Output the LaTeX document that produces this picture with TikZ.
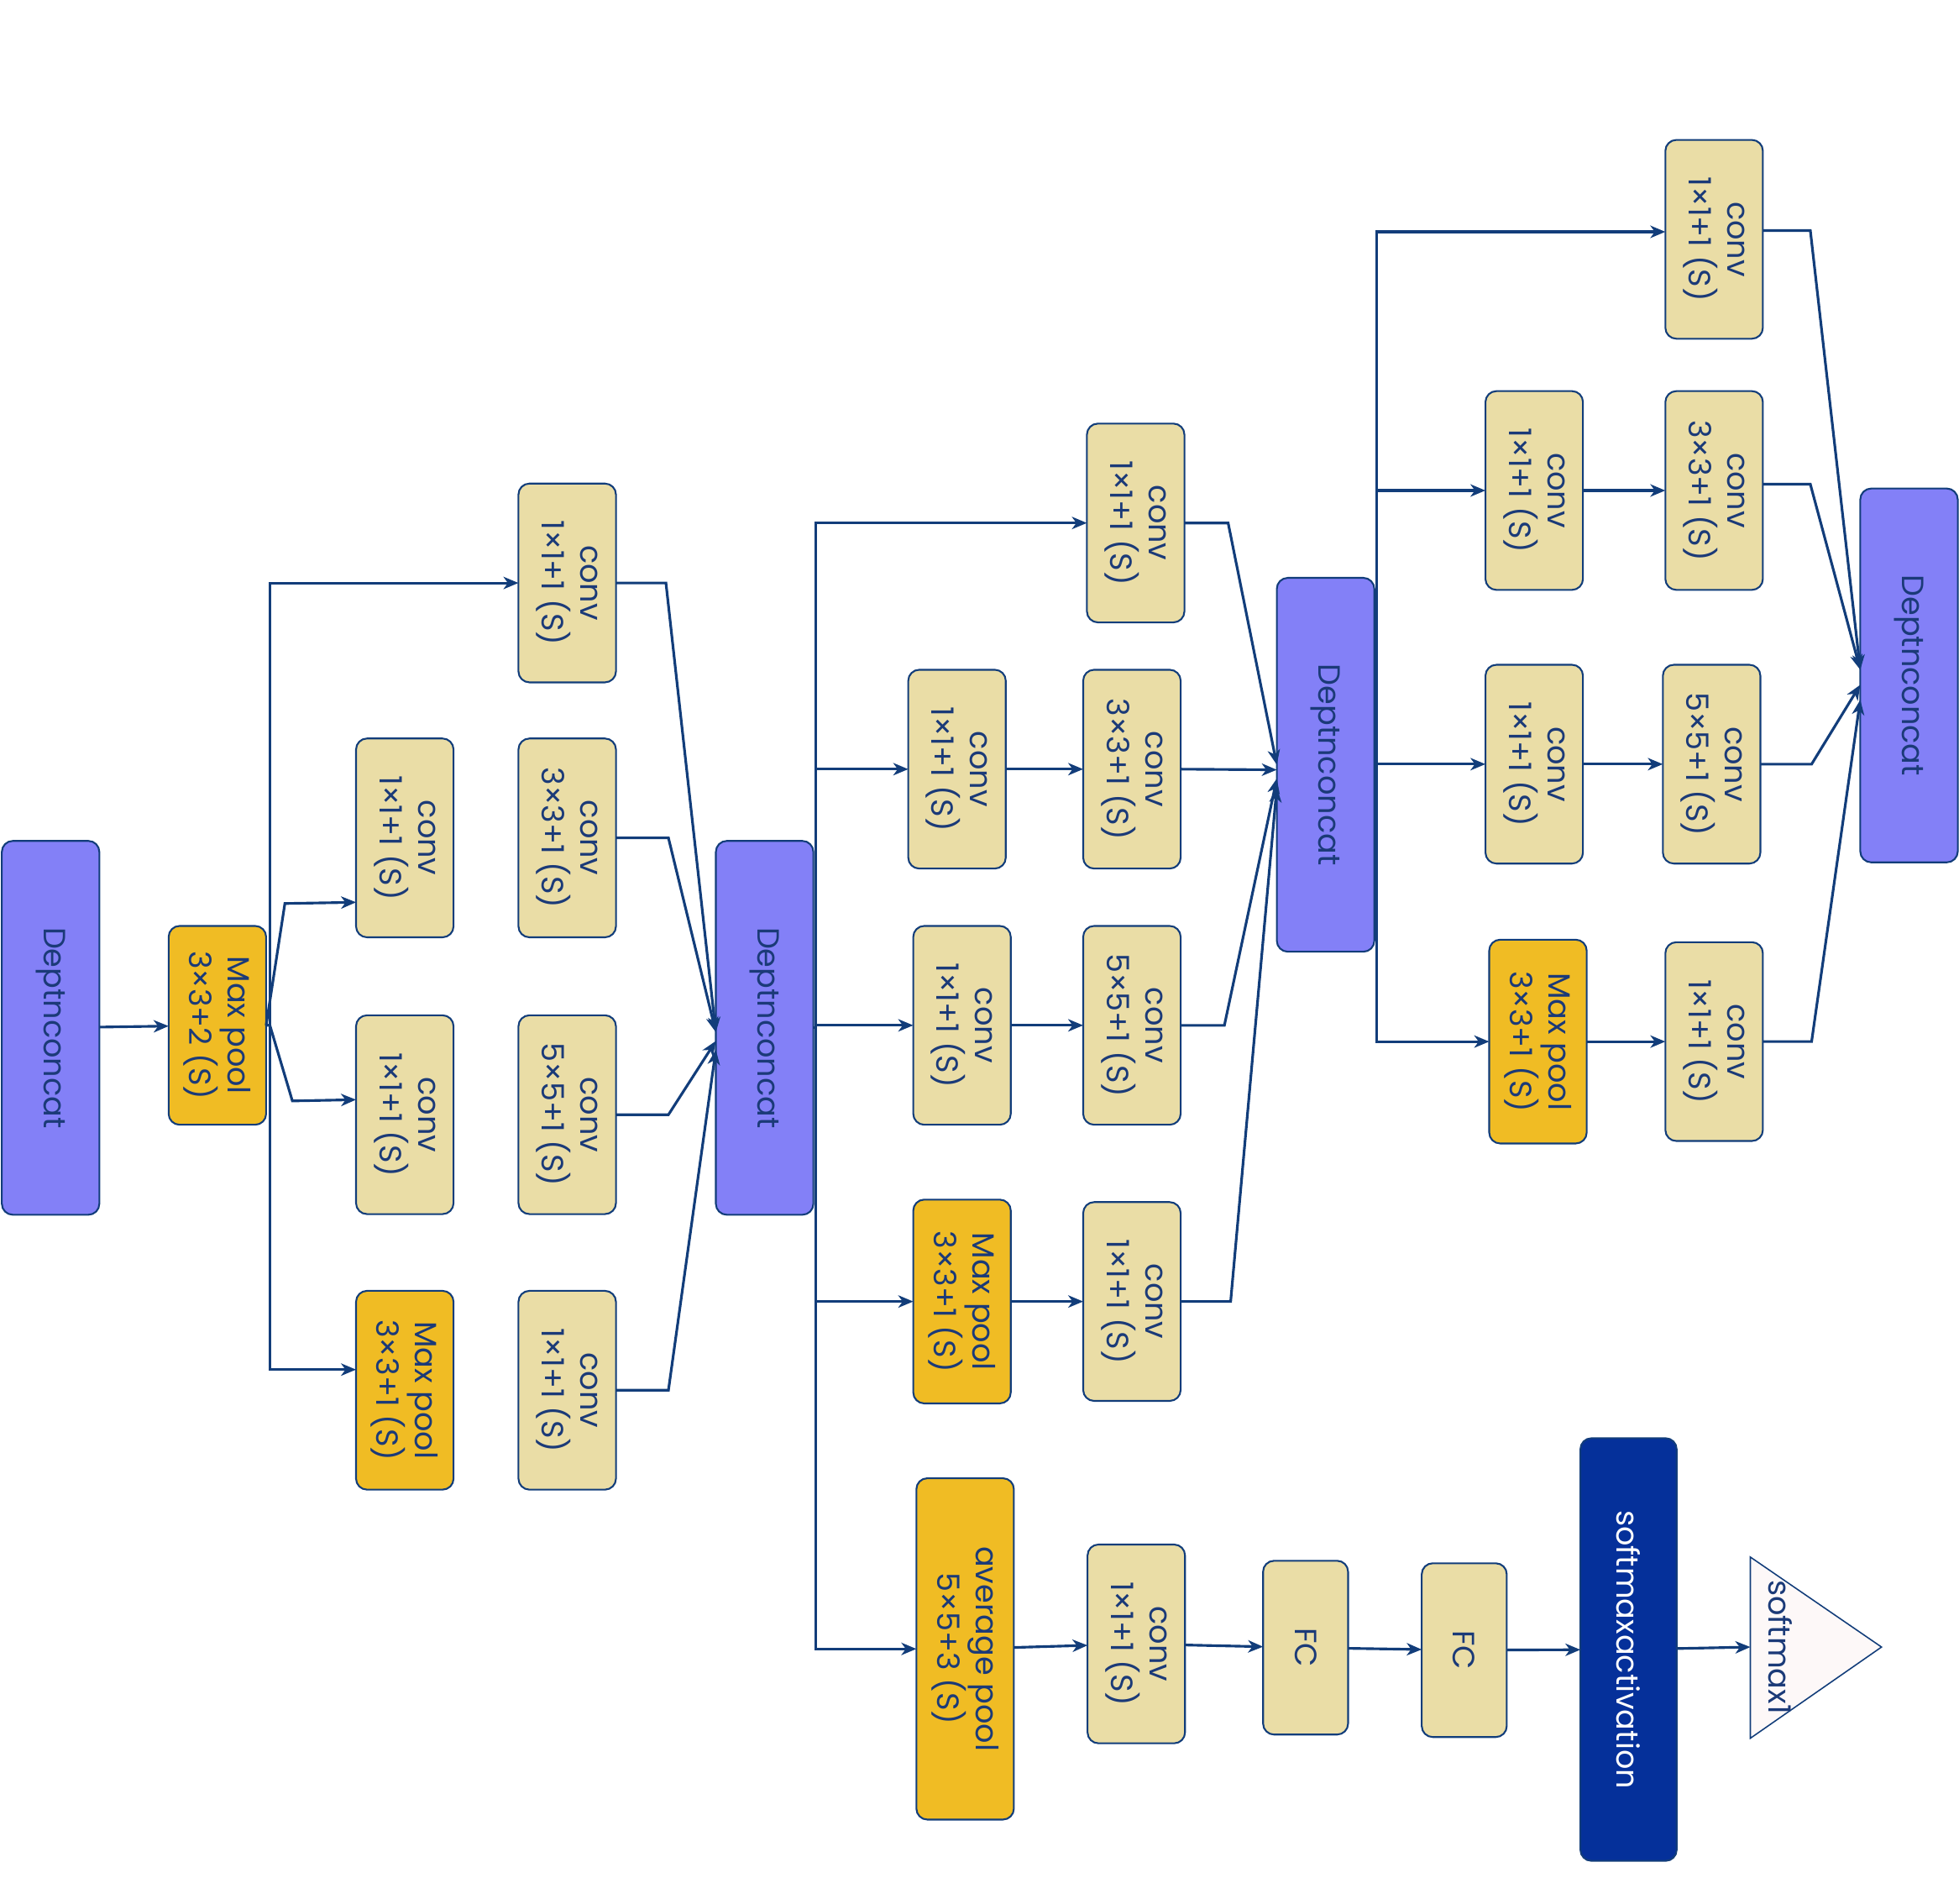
\documentclass[tikz,border=0pt]{standalone}
\usepackage{fontspec}
\setmainfont{Poppins}
\usetikzlibrary{arrows.meta,positioning}
\definecolor{linkblue}{HTML}{123D7A}
\definecolor{textblue}{HTML}{1B3A78}
\definecolor{catfill}{HTML}{8380F7}
\definecolor{poolfill}{HTML}{F0BC24}
\definecolor{convfill}{HTML}{EADDA6}
\definecolor{actfill}{HTML}{05309A}
\definecolor{trifill}{HTML}{FDF8F8}
\begin{document}
\begin{tikzpicture}[x=0.01cm,y=-0.01cm,font=\fontsize{7}{8.8}\selectfont,
	blk/.style={draw=linkblue,line width=0.4pt,rounded corners=2.5pt,rotate=-90,inner sep=0pt,outer sep=0pt,align=center,text=textblue},
	convbox/.style={blk,fill=convfill,minimum width=1.59cm,minimum height=0.78cm},
	poolbox/.style={blk,fill=poolfill,minimum width=1.59cm,minimum height=0.78cm},
	catbox/.style={blk,fill=catfill,minimum width=2.99cm,minimum height=0.78cm},
	link/.style={draw=linkblue,line width=0.6pt,-{Stealth[length=3.4pt,width=2.8pt,inset=1pt]}}]
						\useasboundingbox (0,0) rectangle (1568,1523);

						\node[catbox] (dc1) at (40.5,822.5) {Deptnconcat};
						\node[poolbox] (mp1) at (174,820.5) {Max pool\\3×3+2 (S)};

						\node[convbox] (c21) at (324,670.5) {conv\\1×1+1 (S)};
						\node[convbox] (c22) at (324,892) {conv\\1×1+1 (S)};
						\node[poolbox] (mp2) at (324,1112.5) {Max pool\\3×3+1 (S)};

						\node[convbox] (c31) at (454,466.5) {conv\\1×1+1 (S)};
						\node[convbox] (c32) at (454,670.5) {conv\\3×3+1 (S)};
						\node[convbox] (c33) at (454,892) {conv\\5×5+1 (S)};
						\node[convbox] (c34) at (454,1112.5) {conv\\1×1+1 (S)};

						\node[catbox] (dc2) at (612,822.5) {Deptnconcat};

						\node[convbox] (c41) at (766,615.5) {conv\\1×1+1 (S)};
						\node[convbox] (c42) at (770,820.5) {conv\\1×1+1 (S)};
						\node[poolbox,minimum width=1.63cm] (mp4) at (770,1041.5) {Max pool\\3×3+1 (S)};
						\node[poolbox,minimum width=2.73cm] (ap) at (772.5,1319.5) {average pool\\5×5+3 (S)};

						\node[convbox] (c51) at (909,418.5) {conv\\1×1+1 (S)};
						\node[convbox] (c52) at (906,615.5) {conv\\3×3+1 (S)};
						\node[convbox] (c53) at (906,820.5) {conv\\5×5+1 (S)};
						\node[convbox] (c54) at (906,1041.5) {conv\\1×1+1 (S)};
						\node[convbox] (c55) at (909.5,1315.5) {conv\\1×1+1 (S)};

						\node[convbox,minimum width=1.39cm,minimum height=0.68cm] (fc1) at (1045,1318.5) {FC};
						\node[convbox,minimum width=1.39cm,minimum height=0.68cm] (fc2) at (1172,1320.5) {FC};
						\node[blk,fill=actfill,text=white,minimum width=3.38cm,minimum height=0.77cm] (act) at (1303.5,1320) {softmaxactivation};
						\draw[draw=linkblue,line width=0.3pt,fill=trifill] (1401,1246) -- (1506,1318) -- (1401,1391) -- cycle;
						\coordinate (tri) at (1401,1318);
						\node[rotate=-90,text=textblue] (sm) at (1425,1318) {softmax1};

						\node[catbox] (dc3) at (1061,612) {Deptnconcat};

						\node[convbox] (c61) at (1228,392.5) {conv\\1×1+1 (S)};
						\node[convbox] (c62) at (1228,611.5) {conv\\1×1+1 (S)};
						\node[poolbox,minimum width=1.63cm] (mp6) at (1231,833.5) {Max pool\\3×3+1 (S)};

						\node[convbox] (c71) at (1372,191.5) {conv\\1×1+1 (S)};
						\node[convbox] (c72) at (1372,392.5) {conv\\3×3+1 (S)};
						\node[convbox] (c73) at (1370,611.5) {conv\\5×5+1 (S)};
						\node[convbox] (c74) at (1372,833.5) {conv\\1×1+1 (S)};

						\node[catbox] (dc4) at (1528,540.5) {Deptnconcat};

						\draw[link] (dc1) -- (mp1);
						\draw[link] (mp1.north) -- ++(3,0) |- (c31.south);
						\draw[link] (mp1.north) -- ++(3,0) |- ([yshift=1.65mm]mp2.south);
						\draw[link] (mp1.north) -- ++(15,-97.5) -- ([yshift=-5.15mm]c21.south);
						\draw[link] (mp1.north) -- ++(3,0) -- ++(18,60.5) -- ([yshift=1.2mm]c22.south);

						\draw[link] (c31.north) -- ++(40,0) -- ([yshift=-0.35mm]dc2.south);
						\draw[link] (c32.north) -- ++(42,0) -- ([yshift=-0.35mm]dc2.south);
						\draw[link] (c33.north) -- ++(42,0) -- ([yshift=-1.05mm]dc2.south);
						\draw[link] (c34.north) -- ++(42,0) -- ([yshift=-1.75mm]dc2.south);

						\draw[link] (dc2.north) -- ++(2,0) |- (c51.south);
						\draw[link] (dc2.north) -- ++(2,0) |- (c41.south);
						\draw[link] (dc2.north) -- ++(2,0) |- (c42.south);
						\draw[link] (dc2.north) -- ++(2,0) |- (mp4.south);
						\draw[link] (dc2.north) -- ++(2,0) |- (ap.south);

						\draw[link] (c41) -- (c52);
						\draw[link] (c42) -- (c53);
						\draw[link] (mp4) -- (c54);
						\draw[link] (ap) -- (c55);

						\draw[link] (c51.north) -- ++(35,0) -- (dc3.south);
						\draw[link] (c52.north) -- ([yshift=-0.4mm]dc3.south);
						\draw[link] (c53.north) -- ++(35,0) -- ([yshift=-1.1mm]dc3.south);
						\draw[link] (c54.north) -- ++(40,0) -- ([yshift=-1.8mm]dc3.south);

						\draw[link] (c55) -- (fc1);
						\draw[link] (fc1) -- (fc2);
						\draw[link] (fc2) -- (act);
						\draw[link] (act) -- (tri);

						\draw[link] (dc3.north) -- ++(2,0) |- ([yshift=0.6mm]c71.south);
						\draw[link] (dc3.north) -- ++(2,0) |- (c61.south);
						\draw[link] (dc3.north) -- ++(2,0) |- (c62.south);
						\draw[link] (dc3.north) -- ++(2,0) |- (mp6.south);

						\draw[link] (c61) -- (c72);
						\draw[link] (c62) -- (c73);
						\draw[link] (mp6) -- (c74);

						\draw[link] ([yshift=0.7mm]c71.north) -- ++(38,0) -- ([yshift=0.45mm]dc4.south);
						\draw[link] ([yshift=0.5mm]c72.north) -- ++(38,0) -- ([yshift=0.45mm]dc4.south);
						\draw[link] (c73.north) -- ++(41,0) -- ([yshift=-0.75mm]dc4.south);
						\draw[link] (c74.north) -- ++(39,0) -- ([yshift=-1.95mm]dc4.south);
					\end{tikzpicture}
\end{document}
